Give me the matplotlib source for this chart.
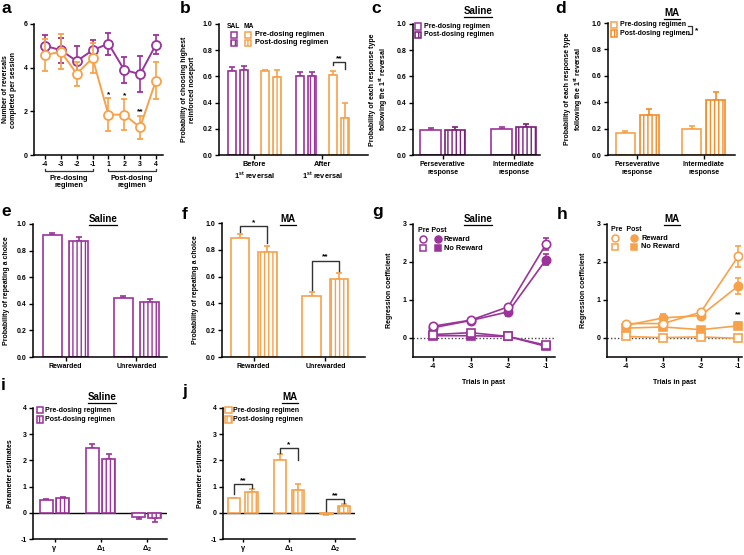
import numpy as np
import matplotlib
matplotlib.use("Agg")
import matplotlib.pyplot as plt
import matplotlib.transforms as mtransforms
from matplotlib.patches import Rectangle
from matplotlib.lines import Line2D

plt.rcParams["font.family"] = ["Liberation Sans", "DejaVu Sans"]
plt.rcParams["font.weight"] = "bold"
plt.rcParams["axes.labelweight"] = "bold"
plt.rcParams["axes.unicode_minus"] = False
plt.rcParams["mathtext.fontset"] = "custom"
plt.rcParams["mathtext.rm"] = "Liberation Sans:bold"
plt.rcParams["mathtext.bf"] = "Liberation Sans:bold"
plt.rcParams["mathtext.it"] = "Liberation Sans:bold"
plt.rcParams["hatch.linewidth"] = 1.0

PURPLE = "#9b339b"
DPURPLE = "#7a1f7a"
ORANGE = "#f7a24a"
DORANGE = "#f28c2a"
FS = 5.0  # small text size

# ---- a: reversals per session
sessions = ["-4", "-3", "-2", "-1", "1", "2", "3", "4"]
rev_sal = [5.0, 4.8, 4.3, 4.8, 5.1, 3.9, 3.7, 5.05]
rev_sal_err = [0.5, 0.57, 0.7, 0.47, 0.5, 0.6, 0.82, 0.43]
rev_ma = [4.58, 4.73, 3.72, 4.44, 1.85, 1.85, 1.27, 3.4]
rev_ma_err = [0.75, 0.8, 0.55, 0.68, 0.75, 0.7, 0.53, 0.85]
rev_star_idx = [4, 5, 6]
rev_star_txt = ["*", "*", "**"]

# ---- b: choosing highest reinforced noseport
b_groups = ["Before\n1$^{st}$ reversal", "After\n1$^{st}$ reversal"]
b_sal_pre = [0.645, 0.605]
b_sal_pre_err = [0.025, 0.025]
b_sal_post = [0.65, 0.605]
b_sal_post_err = [0.03, 0.03]
b_ma_pre = [0.64, 0.61]
b_ma_pre_err = [0.01, 0.03]
b_ma_post = [0.595, 0.285]
b_ma_post_err = [0.055, 0.11]

# ---- c, d: response type after 1st reversal
resp_groups = ["Perseverative\nresponse", "Intermediate\nresponse"]
c_pre = [0.19, 0.195]
c_pre_err = [0.015, 0.02]
c_post = [0.19, 0.21]
c_post_err = [0.025, 0.025]
d_pre = [0.17, 0.195]
d_pre_err = [0.015, 0.025]
d_post = [0.305, 0.415]
d_post_err = [0.045, 0.065]

# ---- e, f: repeating a choice
rep_groups = ["Rewarded", "Unrewarded"]
e_pre = [0.92, 0.44]
e_pre_err = [0.015, 0.02]
e_post = [0.875, 0.41]
e_post_err = [0.025, 0.025]
f_pre = [0.885, 0.455]
f_pre_err = [0.03, 0.03]
f_post = [0.78, 0.585]
f_post_err = [0.045, 0.045]

# ---- g, h: regression coefficients
trials = [-4, -3, -2, -1]
g_rew_pre = [0.31, 0.47, 0.82, 2.47]
g_rew_pre_err = [0.05, 0.04, 0.06, 0.15]
g_rew_post = [0.27, 0.46, 0.69, 2.06]
g_rew_post_err = [0.05, 0.04, 0.1, 0.15]
g_nr_pre = [0.09, 0.14, 0.04, -0.19]
g_nr_pre_err = [0.04, 0.03, 0.03, 0.05]
g_nr_post = [0.06, 0.06, 0.04, -0.22]
g_nr_post_err = [0.04, 0.03, 0.03, 0.05]
h_rew_pre = [0.38, 0.38, 0.68, 2.15]
h_rew_pre_err = [0.05, 0.05, 0.06, 0.27]
h_rew_post = [0.33, 0.53, 0.59, 1.37]
h_rew_post_err = [0.05, 0.1, 0.06, 0.22]
h_nr_pre = [0.04, 0.01, 0.03, -0.01]
h_nr_pre_err = [0.03, 0.03, 0.03, 0.03]
h_nr_post = [0.26, 0.29, 0.22, 0.32]
h_nr_post_err = [0.05, 0.05, 0.06, 0.09]
h_star_x = [-2, -1]
h_star_y = [0.38, 0.52]

# ---- i, j: parameter estimates
params = [r"$\gamma$", r"$\Delta_1$", r"$\Delta_2$"]
i_pre = [0.5, 2.46, -0.15]
i_pre_err = [0.02, 0.16, 0.1]
i_post = [0.55, 2.04, -0.21]
i_post_err = [0.05, 0.2, 0.13]
j_pre = [0.55, 2.0, -0.06]
j_pre_err = [0.03, 0.26, 0.03]
j_post = [0.81, 0.88, 0.25]
j_post_err = [0.08, 0.23, 0.09]

W, H = 744, 555
fig = plt.figure(figsize=(W / 100, H / 100), dpi=100)
renderer = fig.canvas.get_renderer()


def px_axes(l, t, r, b):
    ax = fig.add_axes([l / W, 1 - b / H, (r - l) / W, (b - t) / H])
    for s in ["top", "right"]:
        ax.spines[s].set_visible(False)
    for s in ["left", "bottom"]:
        ax.spines[s].set_linewidth(1.1)
    ax.tick_params(direction="out", length=3, width=1.0, labelsize=FS, pad=1.5)
    return ax


def fx(x):
    return x / W


def fy(y):
    return 1 - y / H


def bars(ax, x, vals, errs, color, hatched, width):
    ax.bar(x, vals, width, color="white", edgecolor=color, linewidth=1.2,
           hatch="||||" if hatched else None, zorder=2)
    lower = [0 if v >= 0 else e for v, e in zip(vals, errs)]
    upper = [e if v >= 0 else 0 for v, e in zip(vals, errs)]
    ax.errorbar(x, vals, yerr=[lower, upper], fmt="none", ecolor=color,
                elinewidth=1.2, capsize=2.2, capthick=1.2, zorder=1)


def sig(ax, x1, x2, y, yl, yr, txt):
    ax.plot([x1, x1, x2, x2], [yl, y, y, yr], color="#333333", lw=1.0, zorder=3)
    ax.text((x1 + x2) / 2, y, txt, ha="center", va="bottom", fontsize=6)


def key_sq(x, y, color, hatched, s=6.5):
    fig.add_artist(Rectangle((fx(x - s / 2), fy(y + s / 2)), s / W, s / H,
                             transform=fig.transFigure, facecolor="white",
                             edgecolor=color, lw=1.1,
                             hatch="||||" if hatched else None))


def key_mk(x, y, color, marker, filled):
    fig.add_artist(Line2D([fx(x)], [fy(y)], transform=fig.transFigure,
                          marker=marker, ms=5, mew=1.1, color=color,
                          mfc=color if filled else "white", ls="none"))


def ftext(x, y, s, **kw):
    kw.setdefault("fontsize", FS)
    kw.setdefault("va", "center")
    fig.text(fx(x), fy(y), s, **kw)


def title(x, y, s):
    t = fig.text(fx(x), fy(y), s, ha="center", va="center", fontsize=7, fontweight="bold")
    bb = t.get_window_extent(renderer=renderer)
    yl = bb.y0 - 1.0
    fig.add_artist(Line2D([bb.x0 / W, bb.x1 / W], [yl / H, yl / H],
                          transform=fig.transFigure, color="black", lw=0.9))


def letter(x, y, s):
    fig.text(fx(x), fy(y), s, fontsize=12.5, fontweight="bold", va="top", ha="left")


# ================= a
ax = px_axes(34, 24, 163, 155)
xa = np.arange(len(sessions))
ax.errorbar(xa, rev_sal, yerr=rev_sal_err, color=PURPLE, marker="o", ms=6.5,
            mfc="white", mew=1.3, lw=1.4, capsize=2.5, elinewidth=1.2, zorder=3)
ax.errorbar(xa, rev_ma, yerr=rev_ma_err, color=ORANGE, marker="o", ms=6.5,
            mfc="white", mew=1.3, lw=1.4, capsize=2.5, elinewidth=1.2, zorder=4)
for i, t in zip(rev_star_idx, rev_star_txt):
    ax.text(xa[i], rev_ma[i] + rev_ma_err[i] + 0.02, t, ha="center", va="bottom", fontsize=6)
ax.set_xlim(-0.7, 7.45)
ax.set_ylim(0, 6)
ax.set_yticks([0, 2, 4, 6])
ax.set_xticks(xa)
ax.set_xticklabels(sessions)
ax.set_ylabel("Number of reversals\ncompleted per session", fontsize=FS, labelpad=5)
tr = mtransforms.blended_transform_factory(ax.transData, ax.transAxes)
for a0, a1 in [(0, 3), (4, 7)]:
    ax.plot([a0, a0, a1, a1], [-0.105, -0.125, -0.125, -0.105], color="#333333",
            lw=0.9, transform=tr, clip_on=False)
    ax.text((a0 + a1) / 2, -0.15, "Pre-dosing\nregimen" if a0 == 0 else "Post-dosing\nregimen",
            transform=tr, ha="center", va="top", fontsize=5.3, linespacing=1.1)

# ================= b
ax = px_axes(219, 24, 368, 155)
xb = np.arange(len(b_groups))
bw = 0.12
bars(ax, xb - 0.33, b_sal_pre, b_sal_pre_err, PURPLE, False, bw)
bars(ax, xb - 0.15, b_sal_post, b_sal_post_err, PURPLE, True, bw)
bars(ax, xb + 0.15, b_ma_pre, b_ma_pre_err, ORANGE, False, bw)
bars(ax, xb + 0.33, b_ma_post, b_ma_post_err, ORANGE, True, bw)
sig(ax, 1.15, 1.33, 0.71, 0.69, 0.655, "**")
ax.set_xlim(-0.52, 1.67)
ax.set_ylim(0, 1)
ax.set_yticks(np.arange(0, 1.01, 0.2))
ax.set_yticklabels([f"{v:.1f}" for v in np.arange(0, 1.01, 0.2)])
ax.set_xticks(xb)
ax.set_xticklabels(b_groups, fontsize=5.3, linespacing=1.3)
ax.set_ylabel("Probability of choosing highest\nreinforced noseport", fontsize=FS, labelpad=5)
ftext(233, 27, "SAL", ha="center", fontsize=4.8)
ftext(249, 27, "MA", ha="center", fontsize=4.8)
key_sq(234, 35, PURPLE, False)
key_sq(248, 35, ORANGE, False)
key_sq(234, 43, PURPLE, True)
key_sq(248, 43, ORANGE, True)
ftext(255, 35, "Pre-dosing regimen", fontsize=5.3)
ftext(255, 43, "Post-dosing regimen", fontsize=5.3)


def resp_panel(l, t, r, b, pre, pre_err, post, post_err, c_pre, c_post, off, w, xlim, groups, ylabel):
    ax = px_axes(l, t, r, b)
    x = np.arange(len(groups))
    bars(ax, x - off, pre, pre_err, c_pre, False, w)
    bars(ax, x + off, post, post_err, c_post, True, w)
    ax.set_xlim(*xlim)
    ax.set_ylim(0, 1)
    ax.set_yticks(np.arange(0, 1.01, 0.2))
    ax.set_yticklabels([f"{v:.1f}" for v in np.arange(0, 1.01, 0.2)])
    ax.set_xticks(x)
    ax.set_xticklabels(groups, fontsize=FS, linespacing=1.2)
    ax.set_ylabel(ylabel, fontsize=FS, labelpad=5)
    return ax


resp_label = "Probability of each response type\nfollowing the 1$^{st}$ reversal"
# ================= c
resp_panel(413, 24, 540, 155, c_pre, c_pre_err, c_post, c_post_err, PURPLE, DPURPLE,
           0.17, 0.29, (-0.42, 1.37), resp_groups, resp_label)
key_sq(418, 26.7, PURPLE, False)
key_sq(418, 35, DPURPLE, True)
ftext(424, 26.7, "Pre-dosing regimen")
ftext(424, 35, "Post-dosing regimen")

# ================= d
resp_panel(608, 23, 735, 155, d_pre, d_pre_err, d_post, d_post_err, ORANGE, DORANGE,
           0.18, 0.29, (-0.44, 1.47), resp_groups, resp_label)
key_sq(614, 25, ORANGE, False)
key_sq(614, 33.3, DORANGE, True)
ftext(620, 25, "Pre-dosing regimen")
ftext(620, 33.3, "Post-dosing regimen")
fig.add_artist(Line2D([fx(688), fx(692), fx(692), fx(688)],
                      [fy(25.5), fy(25.5), fy(34), fy(34)],
                      transform=fig.transFigure, color="#333333", lw=0.9))
ftext(695, 31, "*", fontsize=6)

# ================= e
resp_panel(33, 224, 167, 357, e_pre, e_pre_err, e_post, e_post_err, PURPLE, PURPLE,
           0.186, 0.27, (-0.458, 1.43), rep_groups, "Probability of repeating a choice")

# ================= f
ax = resp_panel(222, 223, 365, 357, f_pre, f_pre_err, f_post, f_post_err, ORANGE, ORANGE,
                0.19, 0.26, (-0.44, 1.55), rep_groups, "Probability of repeating a choice")
sig(ax, -0.19, 0.19, 0.975, 0.935, 0.85, "*")
sig(ax, 0.81, 1.19, 0.72, 0.5, 0.645, "**")


def reg_panel(l, t, r, b, color, data, xlim):
    ax = px_axes(l, t, r, b)
    ax.axhline(0, color="#444444", ls=(0, (1, 1.5)), lw=1.0, zorder=1)
    for (vals, errs), mk, filled in zip(data, ["o", "o", "s", "s"], [False, True, False, True]):
        ax.errorbar(trials, vals, yerr=errs, color=color, marker=mk, ms=6 if mk == "o" else 5.5,
                    mfc=color if filled else "white", mew=1.2, lw=1.2, capsize=2.2,
                    elinewidth=1.1, zorder=3 if filled else 4)
    ax.set_xlim(*xlim)
    ax.set_ylim(-0.5, 3)
    ax.set_yticks([0, 1, 2, 3])
    ax.set_xticks(trials)
    ax.set_ylabel("Regression coefficient", fontsize=FS, labelpad=7)
    ax.set_xlabel("Trials in past", fontsize=FS, labelpad=6)
    return ax


# ================= g
reg_panel(413, 224, 555, 357, PURPLE,
          [(g_rew_pre, g_rew_pre_err), (g_rew_post, g_rew_post_err),
           (g_nr_pre, g_nr_pre_err), (g_nr_post, g_nr_post_err)], (-4.53, -0.76))
ftext(418, 230.7, "Pre Post")
key_mk(422.7, 239.3, PURPLE, "o", False)
key_mk(438.3, 239.3, PURPLE, "o", True)
key_mk(422.7, 248.3, PURPLE, "s", False)
key_mk(438.3, 248.3, PURPLE, "s", True)
ftext(444, 239.3, "Reward", fontsize=5.3)
ftext(444, 248.3, "No Reward", fontsize=5.3)

# ================= h
ax = reg_panel(607, 224, 742, 357, ORANGE,
               [(h_rew_pre, h_rew_pre_err), (h_rew_post, h_rew_post_err),
                (h_nr_pre, h_nr_pre_err), (h_nr_post, h_nr_post_err)], (-4.5, -0.9))
for xs, ys in zip(h_star_x, h_star_y):
    ax.text(xs, ys, "**", ha="center", va="bottom", fontsize=6)
ftext(611, 229.3, "Pre  Post")
key_mk(615, 238.3, ORANGE, "o", False)
key_mk(634.3, 238.3, ORANGE, "o", True)
key_mk(615, 246.7, ORANGE, "s", False)
key_mk(634.3, 246.7, ORANGE, "s", True)
ftext(641, 238.3, "Reward", fontsize=5.3)
ftext(641, 246.7, "No Reward", fontsize=5.3)


def param_panel(l, t, r, b, pre, pre_err, post, post_err, color, off, w, xlim):
    ax = px_axes(l, t, r, b)
    x = np.arange(len(params))
    bars(ax, x - off, pre, pre_err, color, False, w)
    bars(ax, x + off, post, post_err, color, True, w)
    ax.axhline(0, color="black", lw=1.0, zorder=1)
    ax.set_xlim(*xlim)
    ax.set_ylim(-1, 4)
    ax.set_yticks([-1, 0, 1, 2, 3, 4])
    ax.set_xticks(x)
    ax.set_xticklabels(params, fontsize=5.3)
    ax.tick_params(axis="x", pad=1, length=2.5)
    ax.set_ylabel("Parameter estimates", fontsize=FS, labelpad=5)
    return ax


# ================= i
param_panel(33, 408, 167, 539, i_pre, i_pre_err, i_post, i_post_err, PURPLE,
            0.178, 0.28, (-0.467, 2.44))
key_sq(40, 410, PURPLE, False)
key_sq(40, 419.3, PURPLE, True)
ftext(45, 410, "Pre-dosing regimen")
ftext(45, 419.3, "Post-dosing regimen")

# ================= j
ax = param_panel(223, 408, 355, 539, j_pre, j_pre_err, j_post, j_post_err, ORANGE,
                 0.19, 0.27, (-0.43, 2.43))
sig(ax, -0.19, 0.19, 1.09, 0.7, 0.95, "**")
sig(ax, 0.81, 1.19, 2.47, 2.3, 2.0, "*")
sig(ax, 1.81, 2.19, 0.53, 0.05, 0.38, "**")
key_sq(228.3, 410, ORANGE, False)
key_sq(228.3, 419.3, ORANGE, True)
ftext(233.3, 410, "Pre-dosing regimen")
ftext(233.3, 419.3, "Post-dosing regimen")

# titles and panel letters
title(478, 11, "Saline")
title(672, 13, "MA")
title(103, 219, "Saline")
title(288, 219, "MA")
title(478, 219, "Saline")
title(672, 219, "MA")
title(102, 397, "Saline")
title(290, 397, "MA")

letter(1, 1, "a")
letter(180, 1, "b")
letter(371, 1, "c")
letter(555, 1, "d")
letter(1, 204, "e")
letter(182, 207, "f")
letter(372, 204, "g")
letter(557, 207, "h")
letter(1, 378, "i")
letter(182, 384, "j")

fig.savefig("out.png", dpi=100)
